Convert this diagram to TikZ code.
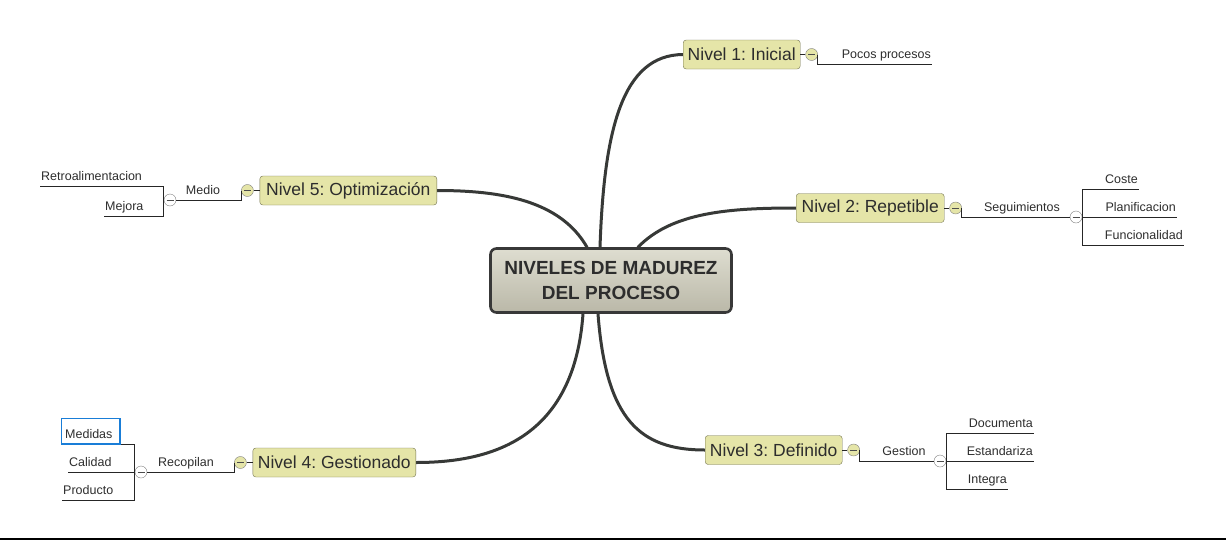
\documentclass[tikz,border=0pt]{standalone}
\usepackage{fontspec}
\setmainfont{Liberation Sans}
\frenchspacing
\usetikzlibrary{positioning, backgrounds}
\definecolor{verdoso}{RGB}{229,229,168}
\definecolor{bordeverde}{RGB}{115,115,80}
\definecolor{ramagris}{RGB}{55,57,55}
\definecolor{textogris}{RGB}{45,45,45}
\definecolor{seleccion}{RGB}{25,125,215}

\begin{document}
\begin{tikzpicture}[
    x=1pt, y=-1pt,
    node distance = 5pt and 5pt,
    raiz/.style = {rectangle, rounded corners=6pt, draw=black!78, line width=2.6pt,
      top color={rgb,255:red,222;green,221;blue,208}, bottom color={rgb,255:red,186;green,184;blue,168},
      minimum width=241pt, minimum height=64pt, align=center,
      font=\bfseries\fontsize{19}{25}\selectfont, text=textogris},
    nivel/.style = {rectangle, rounded corners=3pt, draw=bordeverde, fill=verdoso,
      minimum height=29pt, inner sep=2pt, font=\fontsize{17.5}{20}\selectfont, text=textogris},
    boton/.style = {circle, draw=gray, fill=verdoso, minimum size=12pt, inner sep=0pt,
      path picture={\draw[black!70] ([xshift=2.5pt]path picture bounding box.west)
        -- ([xshift=-2.5pt]path picture bounding box.east);}},
    botonb/.style = {boton, fill=white},
    hoja/.style = {inner xsep=1pt, inner ysep=1pt, text depth=4.5pt,
      font=\fontsize{12.5}{14}\selectfont, text=textogris},
    linea/.style = {draw=black!85, line width=0.8pt},
    rama/.style = {draw=ramagris, line width=3pt, line cap=round},
    font=\small
    ]
  \useasboundingbox (0,0) rectangle (1226,541);

  \node[raiz] (raiz) at (611,280.5) {NIVELES DE MADUREZ\\DEL PROCESO} ;

  \node[nivel, anchor=west, minimum width=117pt] (n1) at (683,54.5) {Nivel 1: Inicial} ;
  \node[nivel, anchor=west, minimum width=148pt] (n2) at (796,208) {Nivel 2: Repetible} ;
  \node[nivel, anchor=west, minimum width=137pt] (n3) at (705,450) {Nivel 3: Definido} ;
  \node[nivel, anchor=east, minimum width=163pt] (n4) at (416,462.5) {Nivel 4: Gestionado} ;
  \node[nivel, anchor=east, minimum width=177pt] (n5) at (437,190.5) {Nivel 5: Optimización} ;

  \node[boton] (b1) [right=of n1] {} ;
  \node[boton] (b2) [right=of n2] {} ;
  \node[boton] (b3) [right=of n3] {} ;
  \node[boton] (b4) [left=6pt of n4] {} ;
  \node[boton] (b5) [left=6pt of n5] {} ;

  \node[botonb] (c2) at (1076,217) {} ;
  \node[botonb] (c3) at (940,461) {} ;
  \node[botonb] (c4) at (141,472) {} ;
  \node[botonb] (c5) at (170,200) {} ;

  % hojas
  \node[hoja, anchor=south east] (pocos) at (932,64) {Pocos procesos} ;
  \node[hoja, anchor=south] (segui) at (1022,217) {Seguimientos} ;
  \node[hoja, anchor=south east] (coste) at (1139,189) {Coste} ;
  \node[hoja, anchor=south east] (plan) at (1177,217) {Planificacion} ;
  \node[hoja, anchor=south east] (func) at (1184,245) {Funcionalidad} ;
  \node[hoja, anchor=south] (gestion) at (904,461) {Gestion} ;
  \node[hoja, anchor=south east] (docu) at (1034,433) {Documenta} ;
  \node[hoja, anchor=south east] (estand) at (1034,461) {Estandariza} ;
  \node[hoja, anchor=south east] (integra) at (1008,489) {Integra} ;
  \node[hoja, anchor=south] (recop) at (186,472) {Recopilan} ;
  \node[hoja, anchor=south west] (medidas) at (64,444) {Medidas} ;
  \node[hoja, anchor=south west] (calidad) at (68,472) {Calidad} ;
  \node[hoja, anchor=south west] (producto) at (62,500) {Producto} ;
  \node[hoja, anchor=south] (medio) at (203,200) {Medio} ;
  \node[hoja, anchor=south west] (retro) at (40,186) {Retroalimentacion} ;
  \node[hoja, anchor=south west] (mejora) at (104,216) {Mejora} ;

  \begin{scope}[on background layer]
    \draw[rama] ([xshift=-11pt]raiz.north) .. controls (604,130) and (622,55) .. (n1.west) ;
    \draw[rama] ([xshift=27pt]raiz.north) .. controls (672,212) and (730,208) .. (n2.west) ;
    \draw[rama] ([xshift=-13pt]raiz.south) .. controls (606,420) and (640,450) .. (n3.west) ;
    \draw[rama] ([xshift=-28pt]raiz.south) .. controls (574,440) and (490,462.5) .. (n4.east) ;
    \draw[rama] ([xshift=-24pt]raiz.north) .. controls (560,200) and (500,190.5) .. (n5.east) ;
  \end{scope}

  \draw[linea]
    (n1.east) -- (b1.west)
    (b1.east) |- (pocos.south east)
    (n2.east) -- (b2.west)
    (b2.east) |- (c2.west)
    (c2.east) |- (coste.south east)
    (c2.east) -- (plan.south east)
    (c2.east) |- (func.south east)
    (n3.east) -- (b3.west)
    (b3.east) |- (c3.west)
    (c3.east) |- (docu.south east)
    (c3.east) -- (estand.south east)
    (c3.east) |- (integra.south east)
    (n4.west) -- (b4.east)
    (b4.west) |- (c4.east)
    (c4.west) |- (medidas.south west)
    (c4.west) -- (calidad.south west)
    (c4.west) |- (producto.south west)
    (n5.west) -- (b5.east)
    (b5.west) |- (c5.east)
    (c5.west) |- (retro.south west)
    (c5.west) |- (mejora.south west) ;

  \draw[seleccion, line width=1.8pt] (61.5,418.5) rectangle (120,444) ;
  \draw[line width=2pt] (0,539) -- (1226,539) ;
\end{tikzpicture}
\end{document}
